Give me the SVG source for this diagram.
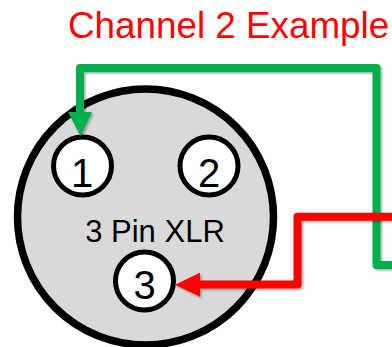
<svg xmlns="http://www.w3.org/2000/svg" width="392" height="347" viewBox="0 0 392 347">
<style>
.t{font-family:"Liberation Sans",Arial,sans-serif;}
.pin{fill:#fff;stroke:#000;stroke-width:5;}
.pl{font-size:40px;fill:#000;text-anchor:middle;}
.wire{fill:none;stroke-width:8;stroke-linejoin:round;stroke-linecap:butt;}
</style>
<defs>
<filter id="sh" x="-10%" y="-10%" width="130%" height="130%">
<feDropShadow dx="1.5" dy="1.5" stdDeviation="1.2" flood-color="#000" flood-opacity="0.35"/>
</filter>
</defs>
<rect width="392" height="347" fill="#fff"/>
<text class="t" x="68" y="38" font-size="36.8" fill="#FF0000">Channel 2 Example</text>
<g id="connector-body">
<circle cx="145.5" cy="217" r="128" fill="#D9D9D9" stroke="#000" stroke-width="7.5"/>
<text class="t" x="155" y="242" font-size="31" text-anchor="middle" fill="#000">3 Pin XLR</text>
</g>
<g id="pin1">
<circle class="pin" cx="82.5" cy="166" r="29"/>
<text class="t pl" x="82" y="187">1</text>
</g>
<g id="pin2">
<circle class="pin" cx="209" cy="166" r="29"/>
<text class="t pl" x="209" y="187">2</text>
</g>
<g id="pin3">
<circle class="pin" cx="144.5" cy="281" r="29"/>
<text class="t pl" x="144.5" y="299">3</text>
</g>
<g id="connectors">
<g filter="url(#sh)">
<path class="wire" stroke="#00B050" d="M392 265 H376.5 V68 H80 V114"/>
<polygon fill="#00B050" points="68,112 92,112 80.5,136"/>
</g>
<g filter="url(#sh)">
<path class="wire" stroke="#FF0000" d="M392 216.7 H297.5 V284.5 H198"/>
<polygon fill="#FF0000" points="175,284.7 200,272.7 200,296.7"/>
</g>
</g>
</svg>
